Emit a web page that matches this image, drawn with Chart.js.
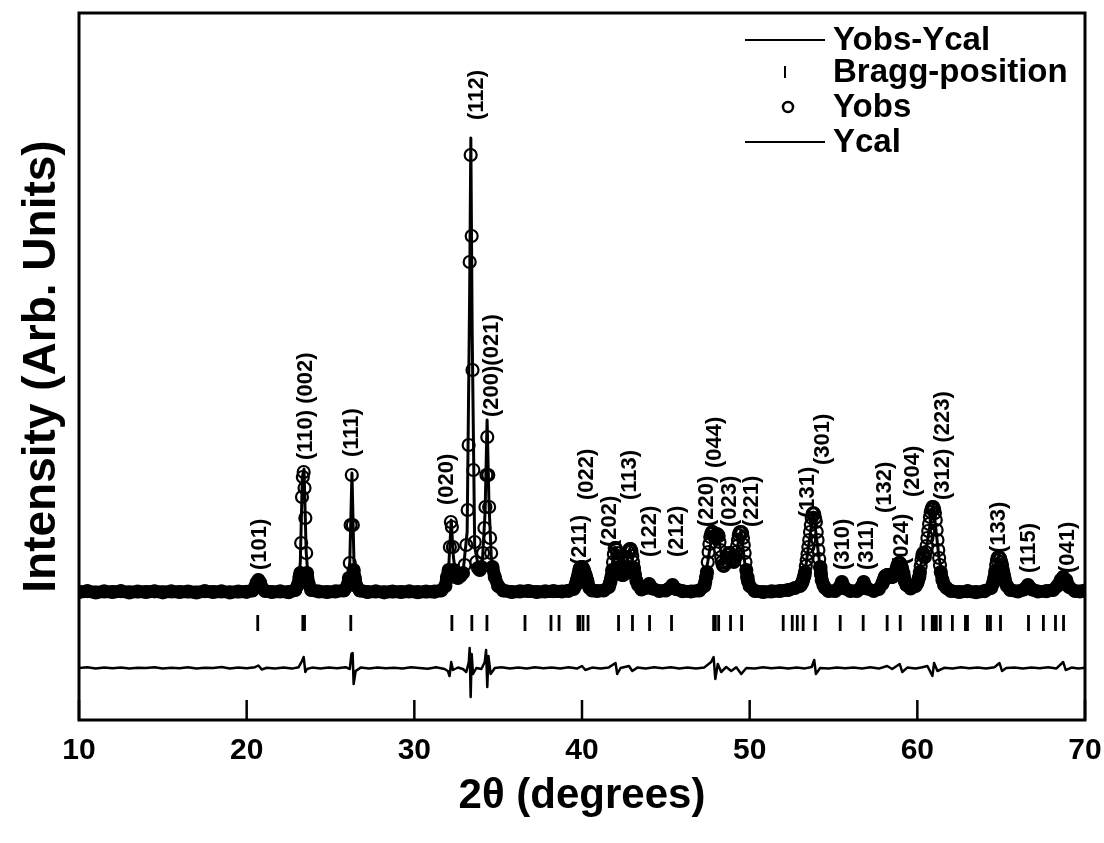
<!DOCTYPE html>
<html><head><meta charset="utf-8">
<script src="https://cdn.jsdelivr.net/npm/chart.js@4.4.0/dist/chart.umd.min.js"></script>
<style>html,body{margin:0;padding:0;background:#fff;}#wrap{width:1104px;height:843px;}</style>
</head><body><div id="wrap"><canvas id="c" width="1104" height="843"></canvas></div>
<script>
// ---------- DATA ----------
const xTicks = [10, 20, 30, 40, 50, 60, 70];

// Observed intensity (Yobs), 2θ in degrees, arbitrary units
const obsX = [10,10.5,11,11.5,12,12.5,13,13.5,14,14.5,15,15.5,16,16.5,17,17.5,18,18.5,19,19.5,20,20.35,
 20.5,20.6,20.7,20.8,20.9,21.1,21.5,22,22.5,22.9,
 23.05,23.15,23.2,23.25,23.3,23.35,23.4,23.45,23.5,23.55,23.6,23.7,23.85,
 24.3,24.8,25.3,25.8,
 26.0,26.1,26.15,26.2,26.27,26.33,26.38,26.45,26.55,26.75,
 27.2,27.7,28.2,28.7,29.2,29.7,30.2,30.7,31.2,31.6,
 31.85,31.95,32.05,32.12,32.18,32.24,32.3,32.36,32.45,
 32.6,32.75,32.9,33.0,33.1,33.18,33.24,33.3,33.36,33.42,33.47,33.52,33.6,33.7,33.8,33.9,34.0,34.1,34.18,34.24,34.3,34.35,34.41,34.46,34.52,34.58,34.66,34.8,35.0,35.3,
 35.8,36.3,36.8,37.3,37.8,38.3,38.8,39.2,
 39.5,39.6,39.65,39.7,39.75,39.8,39.85,39.9,39.95,40.0,40.05,40.1,40.15,40.2,40.25,40.3,40.35,40.45,40.6,
 40.9,41.3,
 41.6,41.65,41.7,41.75,41.8,41.85,41.9,41.95,42.0,42.05,42.1,42.15,42.2,42.25,42.3,42.35,42.4,42.45,42.5,42.55,42.6,42.65,42.7,42.75,42.8,42.85,42.9,42.95,43.0,43.05,43.1,43.15,43.25,43.35,43.55,
 43.8,44.0,44.2,44.6,45.0,45.2,45.4,45.6,46.0,46.5,47.0,
 47.3,47.35,47.4,47.45,47.5,47.55,47.6,47.65,47.7,47.75,47.8,47.85,47.9,47.95,48.0,48.05,48.1,48.15,48.2,48.25,48.3,48.35,48.4,48.45,48.5,48.55,48.6,48.65,48.7,48.75,48.8,48.85,48.9,48.95,49.0,49.05,49.1,49.15,49.2,49.25,49.3,49.35,49.4,49.45,49.5,49.55,49.6,49.65,49.7,49.75,49.8,49.85,49.9,50.0,
 50.3,50.8,51.3,51.8,52.3,52.7,
 53.0,53.05,53.1,53.15,53.2,53.25,53.3,53.35,53.4,53.45,53.5,53.55,53.6,53.65,53.7,53.75,53.8,53.85,53.9,53.95,54.0,54.05,54.1,54.15,54.2,54.25,54.3,54.4,54.5,54.7,
 55.1,55.3,55.5,55.7,56.0,56.4,56.6,56.8,57.0,57.4,57.7,
 57.9,57.95,58.0,58.05,58.1,58.15,58.2,58.25,58.3,58.35,58.4,58.45,58.5,58.55,58.6,58.65,58.7,58.75,58.8,58.85,58.9,58.95,59.0,59.05,59.1,59.15,59.2,59.25,59.35,59.6,59.9,
 60.0,60.05,60.1,60.15,60.2,60.25,60.3,60.35,60.4,60.45,60.5,60.55,60.6,60.65,60.7,60.75,60.8,60.85,60.9,60.95,61.0,61.05,61.1,61.15,61.2,61.25,61.3,61.35,61.4,61.5,61.6,61.75,62.0,
 62.5,63.0,63.5,64.0,
 64.4,64.5,64.55,64.6,64.65,64.7,64.75,64.8,64.85,64.9,64.95,65.0,65.05,65.1,65.15,65.2,65.25,65.35,65.55,
 66.0,66.35,66.6,66.85,67.2,67.7,68.1,68.35,68.55,68.7,68.88,69.05,69.4,69.7,70];
const obsY = [0,8,-5,6,0,8,-4,5,0,7,-3,6,0,5,-5,8,0,6,-4,5,2,15,
 50,95,120,95,45,10,0,6,-2,20,
 70,150,190,490,950,1150,1200,1040,740,390,190,80,20,
 5,0,6,15,
 60,140,290,670,1170,670,220,140,60,15,
 0,6,-3,5,0,6,-2,5,3,15,
 60,150,220,450,700,650,450,220,150,
 140,160,190,270,470,820,1470,3300,4370,3560,2220,1220,500,300,240,220,250,390,640,850,1170,1550,1170,850,540,390,250,150,60,15,
 0,6,10,0,6,8,5,12,
 30,60,90,120,150,190,230,245,250,250,240,225,200,175,150,115,80,40,15,
 10,15,
 50,80,110,150,220,300,380,440,440,420,390,350,300,250,210,180,170,170,180,200,240,300,350,400,420,430,430,410,360,300,240,180,110,70,25,
 40,80,35,10,15,35,70,30,8,5,15,
 60,100,150,200,300,400,480,550,580,600,600,590,560,540,560,580,575,560,500,420,350,300,270,260,270,290,310,340,370,390,390,380,350,330,310,300,320,350,400,460,520,570,595,600,600,590,540,470,390,300,220,150,110,60,
 10,0,6,10,20,40,
 60,70,85,100,130,160,200,260,320,380,450,520,600,670,740,780,790,780,740,700,600,520,420,330,250,180,120,70,40,10,
 10,35,100,35,10,10,35,100,35,10,30,
 80,100,120,150,160,165,170,168,165,160,155,150,150,155,165,180,200,230,260,280,290,290,280,260,230,190,150,110,70,35,60,
 90,120,150,200,260,320,370,390,370,350,400,460,540,610,680,750,800,830,850,850,830,790,720,620,520,420,340,270,200,120,70,40,10,
 0,8,-2,8,
 40,80,110,150,210,270,320,345,350,345,330,300,270,220,180,140,100,60,20,
 5,25,70,25,5,8,20,60,120,150,120,50,10,5,15];

// Calculated intensity (Ycal)
const calX = [10,20.45,20.7,20.95,23.05,23.2,23.32,23.42,23.55,23.7,23.9,26.0,26.15,26.28,26.4,26.6,
 31.85,32.05,32.2,32.33,32.5,32.9,33.15,33.3,33.37,33.45,33.6,33.85,34.05,34.22,34.34,34.45,34.6,34.85,35.2,
 39.55,39.8,39.98,40.2,40.5,41.6,41.95,42.2,42.45,42.85,43.15,43.5,43.8,44.0,44.2,45.2,45.4,45.6,
 47.2,47.5,47.8,47.98,48.12,48.4,48.82,49.1,49.48,49.8,50.2,52.8,53.3,53.8,54.2,54.6,
 55.3,55.5,55.7,56.6,56.8,57.0,57.8,58.2,58.5,58.93,59.3,59.8,60.1,60.33,60.45,60.95,61.3,61.7,62.2,
 64.4,64.85,65.2,65.6,66.3,66.6,66.9,68.3,68.7,69.1,69.5,70];
const calY = [0,0,120,0,30,300,1150,1230,400,60,0,20,300,1190,300,20,
 40,250,720,350,140,190,600,3000,4540,2600,450,230,280,800,1720,900,300,120,10,
 40,190,255,190,20,40,445,300,170,435,180,30,30,80,30,30,70,30,
 40,300,610,550,580,270,390,320,620,160,10,30,200,800,250,20,
 30,100,30,30,100,30,50,170,150,290,90,40,160,390,350,870,330,40,5,
 40,360,170,15,20,70,20,30,150,40,5,10];

// Difference curve (Yobs - Ycal), offset below the pattern
const diffX = [10,10.5,11,11.5,12,12.5,13,13.5,14,14.5,15,15.5,16,16.5,17,17.5,18,18.5,19,19.5,20,20.5,20.7,20.9,21.2,21.7,22.2,22.7,23.1,23.3,23.4,23.5,23.6,23.9,
 24.4,24.9,25.4,25.9,26.15,26.25,26.32,26.38,26.5,26.8,27.3,27.8,28.3,28.8,29.3,29.8,30.3,30.8,31.3,31.8,32.0,32.1,32.2,32.3,32.6,32.9,
 33.1,33.25,33.3,33.36,33.42,33.5,33.7,34.0,34.2,34.28,34.35,34.42,34.55,34.8,35.2,35.7,36.2,36.7,37.2,37.7,38.2,38.7,39.2,39.7,40.0,40.2,
 40.6,41.1,41.6,42.0,42.1,42.3,42.8,43.0,43.3,43.8,44.3,44.8,45.3,45.8,46.3,46.8,47.3,47.7,47.85,47.95,48.1,48.3,48.6,48.9,49.2,49.5,49.8,
 50.3,50.8,51.3,51.8,52.3,52.8,53.3,53.7,53.85,53.95,54.2,54.7,55.2,55.7,56.2,56.7,57.2,57.7,58.2,58.5,58.95,59.1,59.4,59.9,60.3,60.6,60.9,61.0,61.2,61.6,
 62.1,62.6,63.1,63.6,64.1,64.6,64.9,65.05,65.3,65.8,66.3,66.8,67.3,67.8,68.3,68.7,68.85,69.2,69.6,70];
const diffY = [-760,-752,-766,-756,-762,-754,-765,-757,-761,-752,-764,-758,-762,-753,-765,-757,-760,-750,-766,-756,-763,-752,-735,-775,-758,-764,-754,-766,-752,-690,-650,-800,-770,-756,
 -764,-756,-762,-752,-770,-620,-610,-920,-790,-756,-764,-754,-762,-757,-764,-752,-760,-768,-752,-770,-790,-840,-700,-780,-755,-770,
 -800,-700,-560,-1050,-620,-820,-760,-770,-700,-580,-950,-640,-820,-760,-752,-764,-755,-766,-753,-762,-756,-764,-752,-766,-740,-780,
 -756,-764,-754,-710,-820,-760,-740,-790,-756,-764,-752,-762,-752,-764,-756,-766,-754,-700,-650,-870,-720,-800,-750,-790,-752,-820,-760,
 -764,-752,-762,-754,-766,-756,-764,-750,-680,-820,-760,-766,-754,-762,-756,-764,-752,-766,-740,-770,-720,-800,-756,-764,-752,-740,-840,-710,-790,-758,
 -766,-752,-762,-756,-764,-752,-710,-790,-760,-754,-764,-756,-762,-752,-764,-700,-780,-756,-764,-758];

// Bragg reflection positions (2θ)
const braggPos = [20.66,23.35,23.45,26.21,32.24,33.43,34.33,36.60,38.15,38.63,39.76,39.86,40.06,40.36,42.18,43.01,44.03,45.34,
 47.85,47.95,48.15,48.86,49.52,52.0,52.54,52.84,53.19,53.91,55.4,56.77,58.2,58.98,60.35,60.89,61.01,61.13,61.37,62.09,
 62.87,62.99,64.18,64.36,64.96,66.63,67.52,68.24,68.72];
const braggLevel = -310;

// Miller index annotations
const hklText = ['(101)','(110) (002)','(111)','(020)','(112)','(200)(021)','(211)','(022)','(202)','(113)','(122)','(212)',
 '(220)','(044)','(023)','(221)','(131)','(301)','(310)','(311)','(132)','(024)','(204)','(312) (223)','(133)','(115)','(041)'];
const hklX = [20.78,23.52,26.27,31.94,33.73,34.63,39.88,40.30,41.67,42.87,44.06,45.67,
 47.46,47.94,48.84,50.15,53.49,54.39,55.58,57.01,58.09,59.10,59.76,61.55,64.84,66.63,68.96];
const hklY = [220,1320,1350,870,4720,1750,270,920,450,920,350,350,
 650,1240,650,650,740,1270,220,220,790,270,950,920,390,190,190];

const seriesNames = ['Yobs-Ycal','Bragg-position','Yobs','Ycal'];

// ---------- CHART ----------
const pts = (xs, ys) => xs.map((x, i) => ({x: x, y: ys[i]}));
const FONT = "'Liberation Sans', Arial, sans-serif";

const framePlugin = {
  id: 'frame',
  afterDatasetsDraw(chart) {
    const {ctx, chartArea: ca, scales} = chart;
    ctx.save();
    // hkl labels
    ctx.fillStyle = '#000';
    ctx.font = 'bold 22px ' + FONT;
    ctx.textAlign = 'left';
    ctx.textBaseline = 'middle';
    hklText.forEach((t, i) => {
      const px = scales.x.getPixelForValue(hklX[i]);
      const py = scales.y.getPixelForValue(hklY[i]);
      ctx.save();
      ctx.translate(px, py);
      ctx.rotate(-Math.PI / 2);
      ctx.fillText(t, 0, 0);
      ctx.restore();
    });
    // frame
    ctx.strokeStyle = '#000';
    ctx.lineWidth = 3;
    ctx.strokeRect(ca.left, ca.top, ca.right - ca.left, ca.bottom - ca.top);
    // inward ticks on bottom axis
    ctx.lineWidth = 2.5;
    scales.x.ticks.forEach(t => {
      const px = scales.x.getPixelForValue(t.value);
      ctx.beginPath();
      ctx.moveTo(px, ca.bottom);
      ctx.lineTo(px, ca.bottom - 20);
      ctx.stroke();
    });
    // legend (inside plot, top right)
    const lx0 = ca.left + 666, lx1 = ca.left + 746, tx = ca.left + 754;
    const rows = [27, 59, 94, 129];
    ctx.font = 'bold 33px ' + FONT;
    ctx.textBaseline = 'middle';
    chart.data.datasets.forEach((ds, i) => {
      const y = ca.top + rows[i];
      ctx.strokeStyle = '#000';
      if (i === 0 || i === 3) {
        ctx.lineWidth = 2;
        ctx.beginPath(); ctx.moveTo(lx0, y); ctx.lineTo(lx1, y); ctx.stroke();
      } else if (i === 1) {
        ctx.lineWidth = 2;
        ctx.beginPath(); ctx.moveTo(ca.left + 706, y - 6); ctx.lineTo(ca.left + 706, y + 6); ctx.stroke();
      } else {
        ctx.lineWidth = 2.5;
        ctx.beginPath(); ctx.arc(ca.left + 709, y, 5, 0, Math.PI * 2); ctx.stroke();
      }
      ctx.fillStyle = '#000';
      ctx.fillText(ds.label, tx, y + 1);
    });
    ctx.restore();
  }
};

new Chart(document.getElementById('c'), {
  type: 'scatter',
  data: {
    datasets: [
      { label: seriesNames[0], data: pts(diffX, diffY), showLine: true, borderColor: '#000', borderWidth: 2.5,
        borderJoinStyle: 'round', pointRadius: 0, order: 2 },
      { label: seriesNames[1], data: braggPos.map(x => ({x: x, y: braggLevel})), showLine: false,
        pointStyle: 'line', rotation: 90, pointRadius: 8, pointBorderWidth: 2.8, borderColor: '#000', order: 3 },
      { label: seriesNames[2], data: pts(obsX, obsY), showLine: true, borderColor: '#000', borderWidth: 13,
        borderJoinStyle: 'round', borderCapStyle: 'round',
        segment: { borderColor: c => (c.p0.parsed.y < 260 && c.p1.parsed.y < 260) ? '#000' : 'rgba(0,0,0,0)' },
        pointRadius: 6, pointStyle: 'circle', pointBorderWidth: 2.2, pointBorderColor: '#000',
        pointBackgroundColor: 'rgba(255,255,255,0)', order: 1 },
      { label: seriesNames[3], data: pts(calX, calY), showLine: true, borderColor: '#000', borderWidth: 3,
        borderJoinStyle: 'round', pointRadius: 0, order: 0 }
    ]
  },
  options: {
    responsive: false,
    animation: false,
    devicePixelRatio: 1,
    layout: { padding: { left: 0, right: 19, top: 13, bottom: 0 } },
    plugins: { legend: { display: false }, tooltip: { enabled: false } },
    scales: {
      x: {
        type: 'linear', position: 'bottom', min: 10, max: 70,
        afterFit: s => { s.height = 123; s.paddingLeft = 0; s.paddingRight = 0; },
        afterBuildTicks: s => { s.ticks = xTicks.map(v => ({value: v})); },
        grid: { display: false }, border: { display: false },
        ticks: { color: '#000', padding: 5, font: { family: FONT, size: 30, weight: 'bold' } },
        title: { display: true, text: '2θ (degrees)', color: '#000', padding: { bottom: 21 },
                 font: { family: FONT, size: 42, weight: 'bold' } }
      },
      y: {
        type: 'linear', min: -1280, max: 5790,
        afterFit: s => { s.width = 79; },
        grid: { display: false }, border: { display: false },
        ticks: { display: false },
        title: { display: true, text: 'Intensity (Arb. Units)', color: '#000', padding: { top: 15 },
                 font: { family: FONT, size: 46, weight: 'bold' } }
      }
    }
  },
  plugins: [framePlugin]
});
</script></body></html>
